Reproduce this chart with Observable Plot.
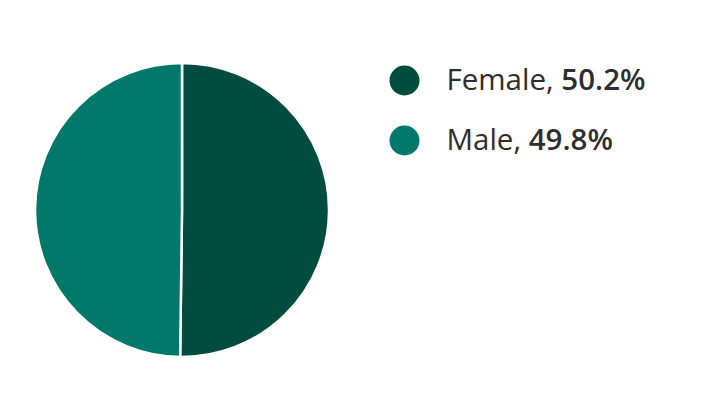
<!DOCTYPE html>
<html><head><meta charset="utf-8">
<script src="https://cdn.jsdelivr.net/npm/d3@7"></script>
<script src="https://cdn.jsdelivr.net/npm/@observablehq/plot@0.6"></script>
<style>body{margin:0;background:#fff}</style>
</head><body><div id="chart"></div>
<script>
const categories = ["Female", "Male"];
const shares = [50.2, 49.8];
const colors = ["#004d40", "#00796b"];

const data = categories.map((c, i) => ({category: c, share: shares[i], label: `${c}, `, value: `${shares[i].toFixed(1)}%`}));
const W = 711, H = 417;
const cx = 182, cy = 210, R = 147;
const legX = 404, legY0 = 80, legStep = 60;

const pie = d3.pie().value(d => d.share).sort(null);
const arcs = pie(data);

const pieMark = (index, scales, values, dims) => {
  const g = d3.create("svg:g");
  const arc = d3.arc().innerRadius(0).outerRadius(R);
  g.selectAll("path").data(arcs).join("path")
    .attr("transform", `translate(${scales.x(cx)},${scales.y(cy)})`)
    .attr("d", arc)
    .attr("fill", d => scales.color(d.data.category))
    .attr("stroke", "#fff").attr("stroke-width", 2.5).attr("stroke-linejoin", "round");
  return g.node();
};

const chart = Plot.plot({
  width: W, height: H, margin: 0,
  x: {type: "identity"}, y: {type: "identity"},
  color: {domain: categories, range: colors},
  axis: null,
  style: {fontFamily: "'Open Sans', sans-serif", background: "#fff"},
  marks: [
    pieMark,
    Plot.dot(data, {x: () => legX, y: (d, i) => legY0 + i * legStep, r: 15, fill: "category", stroke: null}),
    Plot.text(data, {
      x: () => legX + 42, y: (d, i) => legY0 + i * legStep, text: "label", textAnchor: "start",
      fontSize: 29.5, fill: "#2e2e2e",
      render(index, scales, values, dims, ctx, next) {
        const g = next(index, scales, values, dims, ctx);
        d3.select(g).selectAll("text").each(function(i) {
          const d = data[i];
          const t = d3.select(this);
          t.text(null);
          t.append("tspan").text(d.label);
          t.append("tspan").attr("font-weight", 600).text(d.value);
        });
        return g;
      }
    })
  ]
});
document.getElementById("chart").append(chart);
</script></body></html>
